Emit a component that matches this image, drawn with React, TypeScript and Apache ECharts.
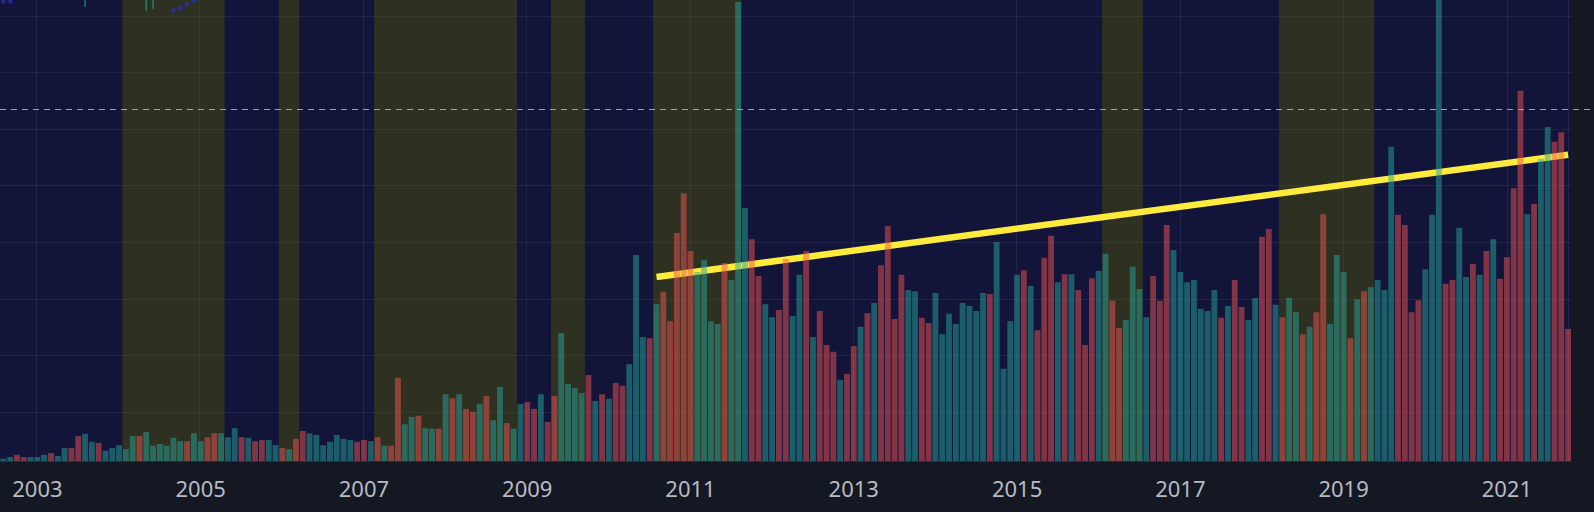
import React, { useEffect, useRef } from "react";
import * as echarts from "echarts";

// ---------- data ----------
const START_YEAR = 2002;
const START_MONTH = 8; // first bar: Aug 2002

// monthly volume (arbitrary units; one horizontal grid step = 10)
const VOLUME = [
  0.4, 0.7, 1.1, 0.7, 0.7, 0.7, 1.1, 1.4, 0.9, 2.3,
  2.3, 4.4, 4.8, 3.4, 3.2, 1.8, 2.3, 2.8, 2.1, 4.4,
  4.4, 5.1, 2.7, 3.0, 2.7, 4.1, 3.5, 3.5, 4.9, 3.5,
  4.2, 4.9, 4.9, 4.2, 5.8, 4.2, 4.1, 3.5, 3.7, 3.7,
  2.8, 2.3, 2.1, 3.9, 5.3, 4.9, 4.6, 2.8, 3.4, 4.6,
  3.9, 3.7, 3.4, 3.7, 3.5, 4.2, 2.7, 2.7, 14.7, 6.5,
  7.8, 8.0, 5.8, 5.7, 5.7, 11.8, 11.1, 11.8, 9.2, 8.7,
  10.1, 11.5, 7.2, 13.1, 6.7, 5.7, 10.1, 10.4, 9.2, 11.8,
  6.9, 11.5, 22.6, 13.6, 12.9, 12.0, 15.2, 10.6, 11.8, 11.0,
  13.8, 13.3, 17.1, 36.4, 21.9, 21.7, 27.7, 29.9, 24.7, 40.3,
  47.3, 37.1, 33.4, 35.5, 24.7, 24.2, 35.0, 32.0, 81.1, 44.7,
  39.2, 32.7, 27.7, 25.4, 26.7, 35.7, 25.6, 32.9, 37.1, 21.9,
  26.5, 20.5, 19.3, 14.3, 15.4, 20.3, 23.7, 26.1, 27.9, 34.6,
  41.5, 25.1, 32.9, 30.2, 30.0, 25.3, 24.4, 29.7, 22.4, 26.0,
  24.2, 27.9, 27.4, 26.5, 29.7, 29.5, 38.7, 16.3, 24.7, 32.9,
  33.7, 30.9, 23.1, 35.9, 39.8, 31.6, 33.0, 33.0, 30.2, 20.5,
  32.3, 33.6, 36.6, 28.3, 23.5, 24.9, 34.3, 30.4, 25.4, 32.7,
  28.3, 41.7, 37.3, 33.4, 31.6, 32.0, 26.9, 26.5, 30.2, 25.3,
  27.4, 32.0, 27.2, 24.9, 28.8, 39.6, 41.0, 27.6, 25.4, 28.8,
  26.3, 22.4, 23.7, 26.3, 43.6, 24.2, 36.4, 33.4, 21.7, 28.6,
  30.0, 30.7, 32.0, 30.2, 55.5, 43.5, 41.7, 26.3, 28.4, 33.9,
  43.5, 95.0, 31.3, 32.0, 41.2, 32.5, 34.8, 32.9, 37.1, 39.2,
  32.2, 36.0, 48.2, 65.4, 43.6, 45.4, 53.4, 59.0, 56.4, 58.1,
  23.3,
];

// u = up month (teal), d = down month (red)
const DIRECTION = (
  "uudduuuduu" + "dduuduuuuu" + "duuuuuuduu" + "dduuududdu" + "ududduuuuu" +
  "uuddududdu" + "uduudududd" + "uduuduuddu" + "dduuuududu" + "dduuududdd" +
  "dduuuuduuu" + "dduudduudu" + "ddduddudud" + "ddduudduuu" + "uuuuuduuuu" +
  "dudddududd" + "duudduuuud" + "dduuuuuuud" + "udduuddudu" + "ududduuudu" +
  "duuuuddddu" + "uudduududu" + "dddduduudd" + "d"
).split("");

// highlighted periods (first month, last month)
const BANDS = [
  ["2004-02", "2005-04"],
  ["2006-01", "2006-03"],
  ["2007-03", "2008-11"],
  ["2009-05", "2009-09"],
  ["2010-08", "2011-08"],
  ["2016-02", "2016-07"],
  ["2018-04", "2019-05"],
];

// trend line end points
const TREND: [string, number][] = [
  ["2010-08", 32.5],
  ["2021-10", 54.1],
];

// dashed reference level
const REF_LEVEL = 62.1;

// clipped wicks of the pane above (lower ends)
const WICKS: [string, number][] = [
  ["2003-08", 80.2],
  ["2004-05", 79.5],
  ["2004-06", 79.9],
];

// small markers at the top edge
const MARKERS: [string, number][] = [
  ["2002-08", 81.2],
  ["2002-09", 81.2],
  ["2004-09", 79.6],
  ["2004-10", 80.0],
  ["2004-11", 80.7],
  ["2004-12", 81.4],
];

const Y_MAX = 81.45;
const GRID_STEPS = 7;

const MONTHS = VOLUME.map((_, i) => {
  const m = START_MONTH - 1 + i;
  return `${START_YEAR + Math.floor(m / 12)}-${String((m % 12) + 1).padStart(2, "0")}`;
});

// ---------- styles ----------
const NAVY = "#12143a";
const DARK = "#141822";
const UP = "#26a69a";
const DOWN = "#ef5350";
const BAND = "rgba(90,92,0,0.40)";
const GRIDLINE = "rgba(255,255,255,0.07)";
const TEXT = "#b8bbc4";

const W = 1594;
const PLOT_LEFT = -1.14;
const PLOT_RIGHT = 22.5;
const PLOT_BOTTOM = 51;
const BAND_W = (W - PLOT_RIGHT - PLOT_LEFT) / MONTHS.length;

const idx = (m: string) => MONTHS.indexOf(m);
const isLabelMonth = (m: string) => m.endsWith("-01") && parseInt(m.slice(0, 4), 10) % 2 === 1;

export default function App() {
  const ref = useRef<HTMLDivElement | null>(null);

  useEffect(() => {
    if (!ref.current) return;
    const chart = echarts.init(ref.current, undefined, { renderer: "svg" });
    const N = MONTHS.length;

    const option: any = {
      animation: false,
      backgroundColor: DARK,
      grid: [
        { left: PLOT_LEFT, right: PLOT_RIGHT, top: 0, bottom: PLOT_BOTTOM, show: true, backgroundColor: NAVY, borderWidth: 0 },
        { left: PLOT_LEFT + BAND_W / 2, right: PLOT_RIGHT + BAND_W / 2, top: 0, bottom: PLOT_BOTTOM },
        { left: PLOT_LEFT, right: PLOT_RIGHT, top: 16, bottom: 100 },
        { left: 0, right: 0, top: 0, bottom: PLOT_BOTTOM },
      ],
      xAxis: [
        {
          type: "category",
          gridIndex: 0,
          data: MONTHS,
          boundaryGap: true,
          axisLine: { show: true, lineStyle: { color: "#2a2e39", width: 1 } },
          axisTick: { show: false },
          splitLine: { show: false },
          axisLabel: {
            interval: (i: number, v: string) => isLabelMonth(v),
            formatter: (v: string) => v.slice(0, 4),
            color: TEXT,
            fontSize: 22,
            fontFamily: "Noto Sans",
            margin: 16,
          },
        },
        { type: "value", gridIndex: 0, min: -0.5, max: N - 0.5, show: false },
        {
          type: "category",
          gridIndex: 1,
          data: MONTHS.slice(0, N - 1),
          boundaryGap: true,
          axisLine: { show: false },
          axisTick: { show: false },
          axisLabel: { show: false },
          splitLine: {
            show: true,
            interval: (i: number, v: string) => isLabelMonth(v),
            lineStyle: { color: GRIDLINE, width: 1 },
          },
        },
        { type: "value", gridIndex: 2, min: 0, max: 1, show: false },
        { type: "value", gridIndex: 3, min: 0, max: 1, show: false },
      ],
      yAxis: [
        { type: "value", gridIndex: 0, min: 0, max: Y_MAX, show: false },
        { type: "value", gridIndex: 1, min: 0, max: 1, show: false },
        {
          type: "value",
          gridIndex: 2,
          min: 0,
          max: GRID_STEPS,
          interval: 1,
          axisLine: { show: false },
          axisTick: { show: false },
          axisLabel: { show: false },
          splitLine: { show: true, lineStyle: { color: GRIDLINE, width: 1 } },
        },
        { type: "value", gridIndex: 3, min: 0, max: Y_MAX, show: false },
      ],
      series: [
        {
          name: "trend",
          type: "line",
          xAxisIndex: 1,
          yAxisIndex: 0,
          z: 2,
          symbol: "none",
          data: TREND.map(([m, v]) => [idx(m), v]),
          lineStyle: { color: "#ffeb3b", width: 6.5, cap: "butt" },
          markArea: {
            silent: true,
            itemStyle: { color: BAND },
            data: BANDS.map(([a, b]) => [{ xAxis: idx(a) - 0.5 }, { xAxis: idx(b) + 0.5 }]),
          },
        },
        {
          name: "volume",
          type: "bar",
          xAxisIndex: 0,
          yAxisIndex: 0,
          z: 3,
          barWidth: "86%",
          data: VOLUME.map((v, i) => ({
            value: v,
            itemStyle: { color: DIRECTION[i] === "u" ? UP : DOWN, opacity: 0.5 },
          })),
        },
        {
          name: "wicks",
          type: "scatter",
          xAxisIndex: 0,
          yAxisIndex: 0,
          z: 3,
          symbol: "rect",
          symbolSize: [1.6, 40],
          symbolOffset: [0, "-50%"],
          itemStyle: { color: UP, opacity: 0.6 },
          data: WICKS,
        },
        {
          name: "markers",
          type: "scatter",
          xAxisIndex: 0,
          yAxisIndex: 0,
          z: 4,
          symbol: "path://M2,0H4V2H6V4H4V6H2V4H0V2H2Z",
          symbolSize: 5,
          itemStyle: { color: "#2a2ad0" },
          data: MARKERS,
        },
        {
          name: "ref",
          type: "line",
          xAxisIndex: 4,
          yAxisIndex: 3,
          z: 5,
          symbol: "none",
          data: [
            [0, REF_LEVEL],
            [1, REF_LEVEL],
          ],
          lineStyle: { color: "#a3a6af", width: 1, type: [6, 5] },
        },
      ],
    };

    chart.setOption(option);
    return () => chart.dispose();
  }, []);

  return (
    <div
      ref={ref}
      style={{ position: "fixed", left: 0, top: 0, width: 1594, height: 512 }}
    />
  );
}
